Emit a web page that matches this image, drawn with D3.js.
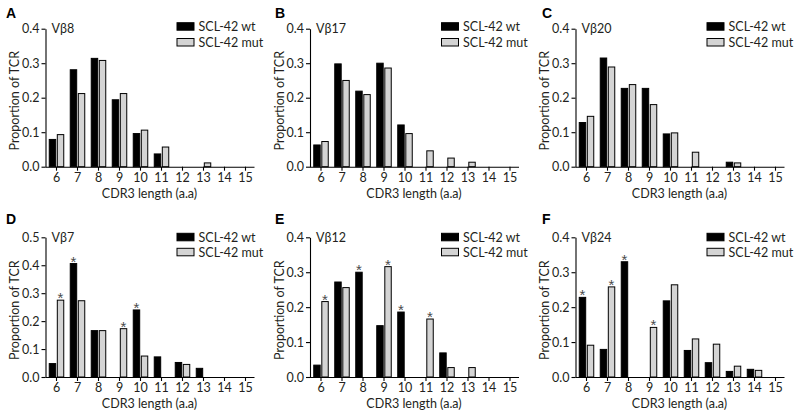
<!DOCTYPE html>
<html><head><meta charset="utf-8">
<script src="https://cdn.jsdelivr.net/npm/d3@7"></script>
<style>
body{margin:0;background:#fff;}
svg{display:block;font-family:"Lato","Liberation Sans",sans-serif;}
</style></head>
<body><svg id="chart" width="795" height="417"></svg>
<script>
const categories = [6,7,8,9,10,11,12,13,14,15];
const seriesNames = ["SCL-42 wt","SCL-42 mut"];
const panelLetters = ["A","B","C","D","E","F"];
const vbLabels = ["Vβ8","Vβ17","Vβ20","Vβ7","Vβ12","Vβ24"];
const yTicksTop = [0,0.1,0.2,0.3,0.4];
const yTicksBottom = [0,0.1,0.2,0.3,0.4,0.5];
const xTitle = "CDR3 length (a.a)";
const yTitle = "Proportion of TCR";

const wtA  = [0.079,0.281,0.314,0.194,0.096,0.037,0,0,0,0];
const mutA = [0.093,0.212,0.308,0.212,0.106,0.057,0,0.011,0,0];
const wtB  = [0.063,0.298,0.219,0.300,0.121,0,0,0,0,0];
const mutB = [0.073,0.250,0.209,0.286,0.096,0.046,0.025,0.013,0,0];
const wtC  = [0.128,0.315,0.227,0.227,0.095,0,0,0.013,0,0];
const mutC = [0.146,0.289,0.238,0.180,0.098,0.042,0,0.011,0,0];
const wtD  = [0.048,0.406,0.166,0,0.240,0.072,0.052,0.031,0,0];
const mutD = [0.275,0.273,0.166,0.173,0.075,0,0.045,0,0,0];
const wtE  = [0.034,0.272,0.300,0.147,0.186,0,0.069,0,0,0];
const mutE = [0.216,0.256,0,0.316,0,0.166,0.027,0.027,0,0];
const wtF  = [0.228,0.079,0.330,0,0.218,0.076,0.041,0.016,0.022,0];
const mutF = [0.091,0.258,0,0.142,0.264,0.109,0.094,0.031,0.019,0];
const starsWtD = [7,10],  starsMutD = [6,9];
const starsWtE = [8,10],  starsMutE = [6,9,11];
const starsWtF = [6,8],   starsMutF = [7,9];

const panels = [
  {wt:wtA, mut:mutA, ticks:yTicksTop, sw:[], sm:[]},
  {wt:wtB, mut:mutB, ticks:yTicksTop, sw:[], sm:[]},
  {wt:wtC, mut:mutC, ticks:yTicksTop, sw:[], sm:[]},
  {wt:wtD, mut:mutD, ticks:yTicksBottom, sw:starsWtD, sm:starsMutD},
  {wt:wtE, mut:mutE, ticks:yTicksBottom.slice(0,5), sw:starsWtE, sm:starsMutE},
  {wt:wtF, mut:mutF, ticks:yTicksTop, sw:starsWtF, sm:starsMutF}
];

// layout
const colLeft = [45.5, 310, 575.5];
const letterX = [6, 275, 542];
const rows = [
  {top:28.7, bottom:166.7, letterY:17.5, legY:[22.7,38.5]},
  {top:237.3, bottom:377, letterY:223.5, legY:[233.3,248.3]}
];
const textCol = "#231f20";
const fs = 12.5;
const svg = d3.select("#chart");

panels.forEach((p,i)=>{
  const r = rows[Math.floor(i/3)], c = i%3;
  const left = colLeft[c];
  const g = svg.append("g");
  const x = d3.scaleBand().domain(categories).range([left+0.5, left+210.5]).paddingInner(0).paddingOuter(0);
  const sub = d3.scaleBand().domain(seriesNames).range([3.25, 17.75]).paddingInner(0.2);
  const ymax = p.ticks[p.ticks.length-1];
  const y = d3.scaleLinear().domain([0, ymax]).range([r.bottom, r.top]);

  const data = [];
  categories.forEach((cat,k)=>{
    data.push({cat, s:seriesNames[0], v:p.wt[k], star:p.sw.includes(cat)});
    data.push({cat, s:seriesNames[1], v:p.mut[k], star:p.sm.includes(cat)});
  });
  g.selectAll("rect.bar").data(data.filter(d=>d.v>0)).join("rect")
    .attr("class","bar")
    .attr("x", d=>x(d.cat)+sub(d.s))
    .attr("width", sub.bandwidth())
    .attr("y", d=>y(d.v))
    .attr("height", d=>r.bottom - y(d.v))
    .attr("fill", d=>d.s===seriesNames[0] ? "#000" : "#d4d4d4")
    .attr("stroke", "#000").attr("stroke-width", 1);

  g.selectAll("text.star").data(data.filter(d=>d.star)).join("text")
    .attr("class","star")
    .attr("x", d=>x(d.cat)+sub(d.s)+sub.bandwidth()/2)
    .attr("y", d=>y(d.v)+3)
    .attr("text-anchor","middle")
    .attr("font-size",15).attr("fill","#4a4a4a").attr("font-family","Liberation Sans, sans-serif")
    .text("*");

  // axes
  const xa = g.append("g").attr("transform",`translate(0,${r.bottom})`)
    .call(d3.axisBottom(x).tickSize(4).tickSizeOuter(0).tickPadding(2));
  xa.select(".domain").attr("d", `M${left},0.5H${left+209}`);
  const ya = g.append("g").attr("transform",`translate(${left},0)`)
    .call(d3.axisLeft(y).tickValues(p.ticks).tickFormat(d3.format(".1f")).tickSize(4).tickSizeOuter(0).tickPadding(2));
  [xa,ya].forEach(a=>{
    a.selectAll("text").attr("font-size",fs).attr("fill",textCol).attr("font-family","Lato, sans-serif");
    a.selectAll("line,path").attr("stroke","#000").attr("stroke-width",1.1);
  });

  g.append("text").attr("x", left+104).attr("y", r.bottom+31)
    .attr("text-anchor","middle").attr("font-size",fs).attr("fill",textCol).text(xTitle);
  g.append("text").attr("transform",`translate(${left-26.5},${(r.top+r.bottom)/2+3}) rotate(-90)`)
    .attr("text-anchor","middle").attr("font-size",fs).attr("fill",textCol).text(yTitle);
  g.append("text").attr("x", letterX[c]).attr("y", r.letterY)
    .attr("font-size",14).attr("font-weight","900").attr("fill","#000")
    .attr("font-family","Liberation Sans, sans-serif").text(panelLetters[i]);
  g.append("text").attr("x", left+6).attr("y", r.top+4.5)
    .attr("font-size",fs).attr("fill",textCol).text(vbLabels[i]);

  // legend
  seriesNames.forEach((s,k)=>{
    g.append("rect").attr("x", left+131.5).attr("y", r.legY[k]).attr("width",17).attr("height",7.5)
      .attr("fill", k===0?"#000":"#d4d4d4").attr("stroke","#000").attr("stroke-width",1);
    g.append("text").attr("x", left+153).attr("y", r.legY[k]+8.3)
      .attr("font-size",fs).attr("fill",textCol).text(s);
  });
});
</script></body></html>
